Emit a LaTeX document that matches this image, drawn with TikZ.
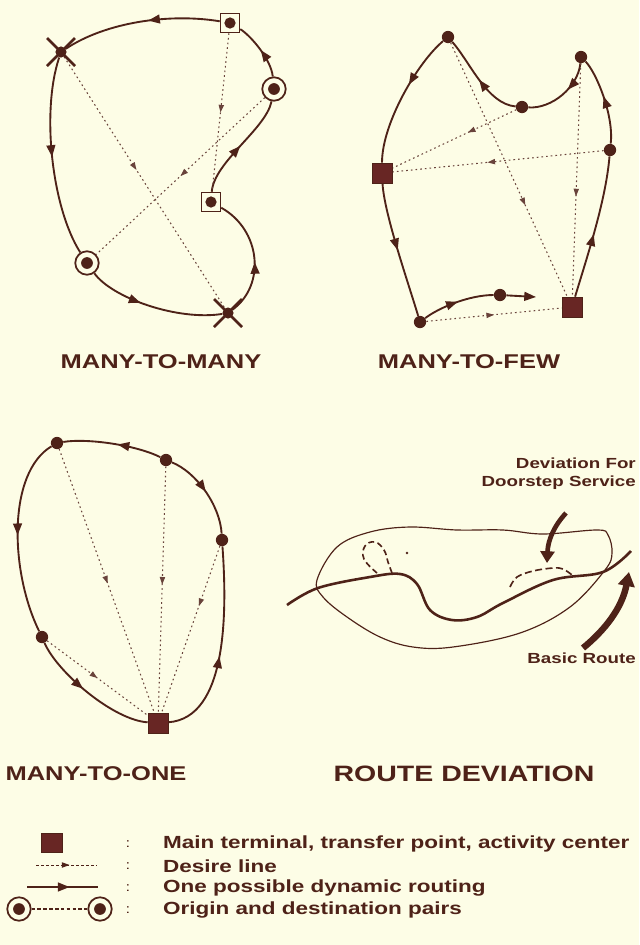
\documentclass[tikz,border=0pt]{standalone}
\usepackage{fontspec}
\usetikzlibrary{arrows.meta,decorations.markings,calc}
\newfontfamily\titlefont[FakeStretch=1.28]{Liberation Sans}
\definecolor{ink}{RGB}{78,34,24}
\definecolor{sqfill}{RGB}{104,38,36}
\definecolor{paper}{RGB}{253,253,230}
\pgfdeclarelayer{bg}
\pgfsetlayers{bg,main}
\tikzset{
  route/.style={ink,line width=1.6pt},
  desire/.style={ink!85,line width=0.9pt,dash pattern=on 1.4pt off 2.6pt},
  ra/.style={decoration={markings,mark=at position #1 with {\arrow{Triangle[length=10pt,width=7.5pt]}}},postaction={decorate}},
  da/.style={decoration={markings,mark=at position #1 with {\arrow{Triangle[length=6.5pt,width=4.5pt]}}},postaction={decorate}},
  dotn/.style={circle,fill=ink,inner sep=0pt,minimum size=10.5pt},
  term/.style={rectangle,fill=sqfill,draw=ink,line width=0.6pt,inner sep=0pt,minimum size=17pt},
  sqdot/.style={rectangle,draw=ink,line width=1pt,fill=paper,inner sep=0pt,minimum size=16.5pt,
    path picture={\fill[ink] (path picture bounding box.center) circle (4.8pt);}},
  crdot/.style={circle,draw=ink,line width=1.5pt,fill=paper,inner sep=0pt,minimum size=20pt,
    path picture={\fill[ink] (path picture bounding box.center) circle (5pt);}},
  xdot/.style={circle,fill=ink,inner sep=0pt,minimum size=9.5pt},
  xline/.style={ink,line width=2.4pt},
  title/.style={text=ink,inner sep=0pt,font=\titlefont\bfseries\fontsize{17}{20}\selectfont},
  lgd/.style={text=ink,inner sep=0pt,anchor=west,font=\titlefont\bfseries\fontsize{15}{17}\selectfont},
  colon/.style={text=ink,inner sep=0pt,font=\titlefont\fontsize{11}{12}\selectfont},
  dev/.style={text=ink,inner sep=0pt,font=\titlefont\bfseries\fontsize{12.5}{15.4}\selectfont},
}
\begin{document}
\begin{tikzpicture}[x=0.03cm,y=-0.03cm]
\useasboundingbox (0,0) rectangle (639,945);
% ---------------- MANY-TO-MANY
\node[xdot] (xa) at (61,52) {};
\node[sqdot] (sqa) at (230,23) {};
\node[crdot] (cra) at (274,89) {};
\node[sqdot] (sqb) at (211,202) {};
\node[crdot] (crb) at (87,263) {};
\node[xdot] (xb) at (228,313) {};
\draw[xline] ([shift={(-14,-14)}]xa.center) -- ([shift={(14,14)}]xa.center);
\draw[xline] ([shift={(-14,14)}]xa.center) -- ([shift={(14,-14)}]xa.center);
\draw[xline] ([shift={(-14,-14)}]xb.center) -- ([shift={(14,14)}]xb.center);
\draw[xline] ([shift={(-14,14)}]xb.center) -- ([shift={(14,-14)}]xb.center);
% ---------------- MANY-TO-FEW
\node[dotn] (ta) at (448,37) {};
\node[dotn] (tb) at (581,57) {};
\node[dotn] (va) at (522,107) {};
\node[dotn] (rd) at (610,150) {};
\node[term] (sl) at (382,173) {};
\node[term] (sb) at (572,307) {};
\node[dotn] (bl) at (420,322) {};
\node[dotn] (bm) at (500,295) {};
\coordinate (fe) at (536,297);
% ---------------- MANY-TO-ONE
\node[dotn] (ma) at (57,443) {};
\node[dotn] (mb) at (166,460) {};
\node[dotn] (mc) at (222,540) {};
\node[dotn] (md) at (42,637) {};
\node[term] (mt) at (158,723) {};
% ---------------- titles
\node[title] (t1) at (161,362) {MANY-TO-MANY};
\node[title] (t2) at (469,362) {MANY-TO-FEW};
\node[title] (t3) at (96,774) {MANY-TO-ONE};
\node[title,font=\titlefont\bfseries\fontsize{19}{20}\selectfont] (t4) at (464,774) {ROUTE DEVIATION};
% ---------------- legend
\node[term,minimum width=18pt,minimum height=16pt] (lg1) at (52,843) {};
\coordinate (l2a) at (36,865); \coordinate (l2b) at (97,865);
\coordinate (l3a) at (27,887); \coordinate (l3b) at (98,887);
\node[crdot] (l4a) at (19,909) {};
\node[crdot] (l4b) at (100,909) {};
\foreach \yy/\nm in {844/c1,866/c2,888/c3,910/c4}{\node[colon] (\nm) at (128,\yy) {:};}
\node[lgd] (lt1) at (163,844) {Main terminal, transfer point, activity center};
\node[lgd] (lt2) at (163,866) {Desire line};
\node[lgd] (lt3) at (163,888) {One possible dynamic routing};
\node[lgd] (lt4) at (163,910) {Origin and destination pairs};
% ---------------- route deviation labels
\begin{scope}[shift={(0,-20)}]
\node[dev,align=right,anchor=north east] (devl) at (636,478) {Deviation For\\Doorstep Service};
\node[dev,anchor=east] (basl) at (636,678) {Basic Route};
\end{scope}

\begin{pgfonlayer}{bg}
\fill[paper] (0,0) rectangle (639,945);
% many-to-many route
\draw[route,ra=0.45] (sqa) .. controls +(-60,-10) and +(45,-30) .. (xa);
\draw[route,ra=0.5] (xa) .. controls +(-20,60) and +(-35,-55) .. (crb);
\draw[route,ra=0.4] (crb) .. controls +(25,35) and +(-50,8) .. (xb);
\draw[route,ra=0.45] (xb) .. controls +(38,-28) and +(50,28) .. (sqb);
\draw[route,ra=0.5] (sqb) .. controls +(3,-40) and +(-8,40) .. (cra);
\draw[route,ra=0.5] (cra) .. controls +(-3,-30) and +(20,12) .. (sqa);
\draw[desire,da=0.45] (xa) -- (xb);
\draw[desire,da=0.5] (sqa) -- (sqb);
\draw[desire,da=0.5] (cra) -- (crb);
% many-to-few route
\draw[route,ra=0.45] (sb) .. controls +(15,-50) and +(-4,50) .. (rd);
\draw[route,ra=0.55] (rd) .. controls +(4,-35) and +(15,15) .. (tb);
\draw[route,ra=0.4] (tb) .. controls +(-3,30) and +(30,2) .. (va);
\draw[route,ra=0.5] (va) .. controls +(-35,-3) and +(22,25) .. (ta);
\draw[route,ra=0.4] (ta) .. controls +(-30,25) and +(0,-50) .. (sl);
\draw[route,ra=0.5] (sl) .. controls +(2,40) and +(-12,-40) .. (bl);
\draw[route,ra=0.5] (bl) .. controls +(20,-15) and +(-30,0) .. (bm);
\draw[route,-{Triangle[length=10pt,width=7.5pt]}] (bm) -- (fe);
\draw[desire,da=0.64] (ta) -- (sb);
\draw[desire,da=0.57] (tb) -- (sb);
\draw[desire,da=0.39] (va) -- (sl);
\draw[desire,da=0.55] (rd) -- (sl);
\draw[desire,da=0.5] (bl) -- (sb);
% many-to-one route
\draw[route,ra=0.45] (mt) .. controls +(70,-5) and +(5,70) .. (mc);
\draw[route,ra=0.5] (mb) .. controls +(30,12) and +(-2,-35) .. (mc);
\draw[route,ra=0.45] (mb) .. controls +(-30,-15) and +(30,-5) .. (ma);
\draw[route,ra=0.5] (ma) .. controls +(-50,30) and +(-32,-65) .. (md);
\draw[route,ra=0.45] (md) .. controls +(15,35) and +(-45,-3) .. (mt);
\draw[desire,da=0.51] (ma) -- (mt);
\draw[desire,da=0.48] (mb) -- (mt);
\draw[desire,da=0.36] (mc) -- (mt);
\draw[desire,da=0.5] (md) -- (mt);
% route deviation
\begin{scope}[shift={(0,-20)}]
\draw[ink,line width=1pt] plot[smooth cycle,tension=0.6] coordinates {(317,600) (337,567) (370,552) (410,547) (457,550) (503,550) (543,554) (597,550) (608,555) (612,573) (605,590) (570,627) (520,653) (453,667) (413,667) (380,657) (347,637) (323,617)};
\draw[ink,line width=2.2pt] plot[smooth,tension=0.6] coordinates {(287,625) (318,608) (370,597) (400,594) (417,604) (430,630) (452,640) (477,637) (503,623) (553,600) (603,592) (631,571)};
\draw[ink,line width=1.4pt,dash pattern=on 5pt off 3pt] plot[smooth,tension=0.7] coordinates {(377,593) (364,579) (365,566) (375,562) (384,570) (388,582) (392,593)};
\fill[ink] (407,573) circle (1.1pt);
\draw[ink,line width=1.4pt,dash pattern=on 6pt off 3pt] plot[smooth,tension=0.6] coordinates {(510,607) (517,597) (533,591) (553,588) (563,589) (572,595)};
\draw[ink,line width=4pt,-{Triangle[length=10pt,width=12pt]}] (566,533) .. controls (554,546) and (548,560) .. (547,583);
\draw[ink,line width=5.5pt,-{Triangle[length=12pt,width=14pt]}] (583,668) .. controls (605,650) and (622,628) .. (629,592);
\end{scope}
% legend lines
\draw[ink,line width=0.8pt,dash pattern=on 2.5pt off 1.8pt,da=0.55] (l2a) -- (l2b);
\draw[route,ra=0.6] (l3a) -- (l3b);
\draw[ink,line width=0.9pt,dash pattern=on 3pt off 2pt] (l4a) -- (l4b);
\end{pgfonlayer}
\end{tikzpicture}
\end{document}
